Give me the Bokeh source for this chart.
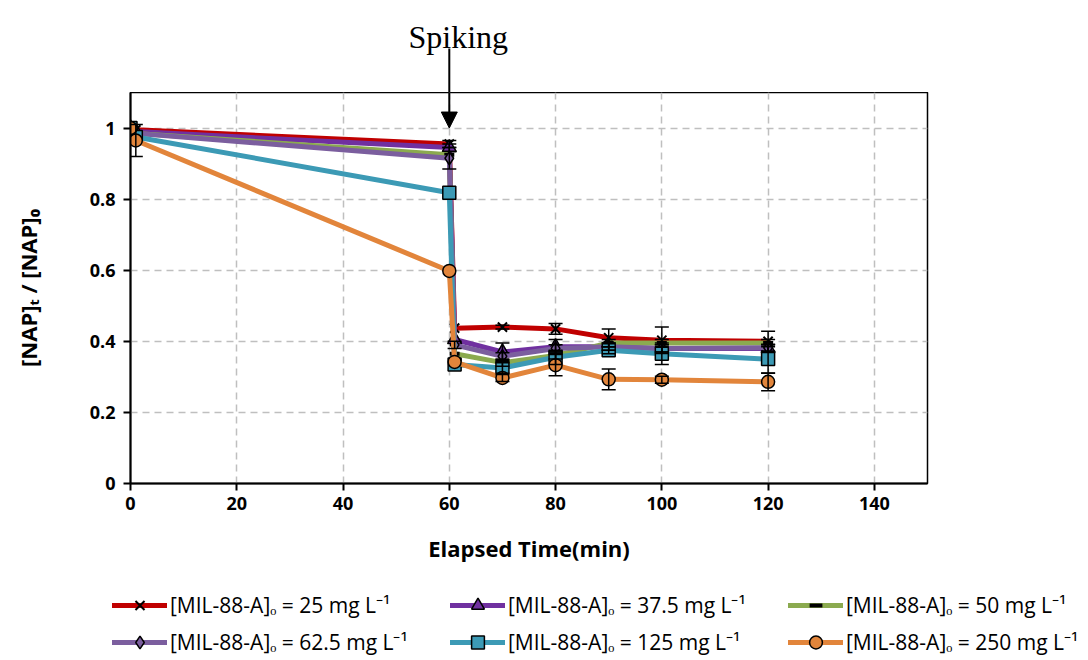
from bokeh.plotting import figure
from bokeh.layouts import column
from bokeh.models import (ColumnDataSource, Range1d, Whisker, TeeHead, Legend, LegendItem,
                          Arrow, NormalHead, Label, FixedTicker, NumeralTickFormatter)
from bokeh.embed import file_html
from bokeh.resources import INLINE

# Sampling times (min); NAP spiked at 60 min
times = [0, 1, 60, 61, 70, 80, 90, 100, 120]

labels = [
    "[MIL-88-A]ₒ = 25 mg L⁻¹",
    "[MIL-88-A]ₒ = 37.5 mg L⁻¹",
    "[MIL-88-A]ₒ = 50 mg L⁻¹",
    "[MIL-88-A]ₒ = 62.5 mg L⁻¹",
    "[MIL-88-A]ₒ = 125 mg L⁻¹",
    "[MIL-88-A]ₒ = 250 mg L⁻¹",
]

# Normalised concentration [NAP]t/[NAP]0
nap_25 = [1.0, 0.995, 0.955, 0.437, 0.440, 0.435, 0.410, 0.403, 0.400]
nap_37_5 = [1.0, 0.990, 0.945, 0.405, 0.370, 0.385, 0.385, 0.380, 0.380]
nap_50 = [1.0, 0.985, 0.925, 0.365, 0.340, 0.360, 0.395, 0.395, 0.395]
nap_62_5 = [1.0, 0.985, 0.915, 0.390, 0.358, 0.380, 0.385, 0.380, 0.382]
nap_125 = [1.0, 0.975, 0.818, 0.335, 0.325, 0.355, 0.375, 0.365, 0.350]
nap_250 = [1.0, 0.965, 0.598, 0.342, 0.297, 0.333, 0.293, 0.292, 0.286]

# Standard deviations
err_25 = [0, 0, 0.010, 0, 0.005, 0.015, 0.025, 0.037, 0.028]
err_37_5 = [0, 0, 0.010, 0, 0.025, 0.020, 0.010, 0.010, 0.010]
err_50 = [0, 0, 0, 0, 0.010, 0.010, 0.010, 0.010, 0.010]
err_62_5 = [0, 0, 0.030, 0.010, 0.010, 0.010, 0.010, 0.010, 0.010]
err_125 = [0, 0, 0, 0, 0.015, 0.020, 0.010, 0.030, 0.040]
err_250 = [0, 0.045, 0, 0, 0.010, 0.030, 0.029, 0.010, 0.025]

x_ticks = [0, 20, 40, 60, 80, 100, 120, 140]
y_ticks = [0, 0.2, 0.4, 0.6, 0.8, 1.0]

spike_time = 60

series = [
    (nap_25, err_25, "#C00000", "x"),
    (nap_37_5, err_37_5, "#7030A0", "triangle"),
    (nap_50, err_50, "#8BAA4F", "dash"),
    (nap_62_5, err_62_5, "#7B5E9E", "diamond"),
    (nap_125, err_125, "#3C9AB5", "square"),
    (nap_250, err_250, "#E2853B", "circle"),
]

FONT = "Open Sans"
W = 1088
LEFT, RIGHT = 130, 161
TOP_H, MAIN_H, LEG_H = 92, 488, 80

x_range = Range1d(0, 150)


def marker_style(marker, color):
    if marker == "x":
        return dict(size=13, line_color="black", line_width=2)
    if marker == "dash":
        return dict(size=10, line_color="black", line_width=4)
    size = 14 if marker == "triangle" else 13
    return dict(size=size, line_color="black", line_width=1.5, fill_color=color)


# --- strip above the chart: "Spiking" label and arrow shaft ---
top = figure(width=W, height=TOP_H, x_range=x_range, y_range=Range1d(0, TOP_H),
             output_backend="svg", toolbar_location=None,
             x_axis_location=None, y_axis_location=None,
             min_border_left=LEFT, min_border_right=RIGHT, min_border_top=0, min_border_bottom=0)
top.grid.visible = False
top.outline_line_color = None
top.background_fill_color = "white"
top.border_fill_color = "white"
top.segment(x0=[spike_time], y0=[TOP_H - 48], x1=[spike_time], y1=[0],
            line_color="black", line_width=2)
top.add_layout(Label(x=spike_time, y=TOP_H - 36, x_offset=9, text="Spiking", text_align="center",
                     text_baseline="alphabetic", text_font="Liberation Serif",
                     text_font_size="32px", text_color="black"))

# --- main chart ---
p = figure(width=W, height=MAIN_H, x_range=x_range, y_range=Range1d(0, 1.1),
           output_backend="svg", toolbar_location=None,
           min_border_left=LEFT, min_border_right=RIGHT, min_border_top=0, min_border_bottom=97)
p.background_fill_color = "white"
p.border_fill_color = "white"
p.outline_line_color = "black"
p.outline_line_width = 1.5

p.xaxis.ticker = FixedTicker(ticks=x_ticks)
p.yaxis.ticker = FixedTicker(ticks=y_ticks)
p.yaxis.formatter = NumeralTickFormatter(format="0.[0]")
for ax in (p.xaxis, p.yaxis):
    ax.axis_line_color = "black"
    ax.axis_line_width = 2
    ax.major_tick_line_color = "black"
    ax.major_tick_line_width = 2
    ax.major_tick_out = 7
    ax.major_tick_in = 0
    ax.minor_tick_line_color = None
    ax.major_label_text_font = FONT
    ax.major_label_text_font_style = "bold"
    ax.major_label_text_font_size = "18px"
    ax.major_label_text_color = "black"
    ax.axis_label_text_font = FONT
    ax.axis_label_text_font_style = "bold"
    ax.axis_label_text_font_size = "22px"
    ax.axis_label_text_color = "black"
p.xaxis.axis_label = "Elapsed Time(min)"
p.yaxis.axis_label = "[NAP]ₜ / [NAP]₀"
p.xaxis.major_label_standoff = 6
p.yaxis.major_label_standoff = 8
p.xaxis.axis_label_standoff = 20
p.yaxis.axis_label_standoff = 44

for g in (p.xgrid, p.ygrid):
    g.grid_line_color = "#BFBFBF"
    g.grid_line_width = 1.5
    g.grid_line_dash = "7 5"

for vals, errs, color, marker in series:
    src = ColumnDataSource(dict(x=times, y=vals))
    p.line("x", "y", source=src, line_color=color, line_width=5, line_join="round", line_cap="round")
    p.scatter("x", "y", source=src, marker=marker, **marker_style(marker, color))
    ex = [t for t, e in zip(times, errs) if e > 0]
    up = [v + e for v, e in zip(vals, errs) if e > 0]
    lo = [v - e for v, e in zip(vals, errs) if e > 0]
    wsrc = ColumnDataSource(dict(x=ex, upper=up, lower=lo))
    p.add_layout(Whisker(source=wsrc, base="x", upper="upper", lower="lower", level="annotation",
                         line_color="black", line_width=1.5,
                         upper_head=TeeHead(size=14, line_color="black", line_width=1.5),
                         lower_head=TeeHead(size=14, line_color="black", line_width=1.5)))

p.add_layout(Arrow(x_start=spike_time, y_start=1.1, x_end=spike_time, y_end=1.0,
                   line_color="black", line_width=2,
                   end=NormalHead(size=16, fill_color="black", line_color="black")))

# --- legend strip below the chart ---
leg = figure(width=W, height=LEG_H, x_range=Range1d(0, W), y_range=Range1d(0, LEG_H),
             output_backend="svg", toolbar_location=None,
             x_axis_location=None, y_axis_location=None,
             min_border_left=0, min_border_right=0, min_border_top=0, min_border_bottom=0)
leg.frame_align = False
leg.grid.visible = False
leg.outline_line_color = None
leg.background_fill_color = "white"
leg.border_fill_color = "white"

nan = float("nan")
swatches = []
for (vals, errs, color, marker), label in zip(series, labels):
    # legend-only renderers: a single NaN point draws nothing in the strip
    holder = ColumnDataSource(dict(x=[nan], y=[nan]))
    ln = leg.line("x", "y", source=holder, line_color=color, line_width=5, line_cap="round")
    mk = leg.scatter("x", "y", source=holder, marker=marker, **marker_style(marker, color))
    swatches.append(LegendItem(label=label, renderers=[ln, mk]))

# the legend grid fills column by column; arrange for rows 25/37.5/50 and 62.5/125/250
order = [0, 3, 1, 4, 2, 5]
legend = Legend(items=[swatches[i] for i in order], ncols=3, location=(112, 2),
                glyph_width=55, glyph_height=32, label_height=32, label_standoff=3,
                label_width=275, spacing=5, padding=0, margin=0,
                border_line_color=None, background_fill_alpha=0,
                label_text_font=FONT, label_text_font_size="21px", label_text_color="black")
leg.add_layout(legend)

layout = column(top, p, leg, spacing=0)
open("out.html", "w").write(file_html(layout, INLINE))
